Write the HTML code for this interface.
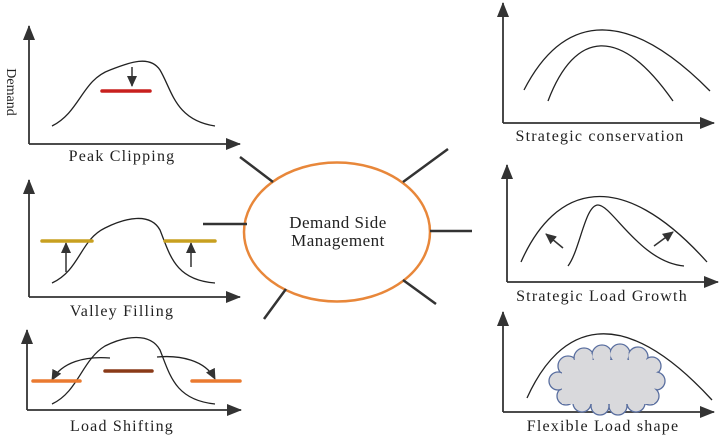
<!DOCTYPE html>
<html><head><style>body{margin:0;background:#fff}svg{display:block}text{font-family:"Liberation Serif",serif;fill:#222}</style></head><body>
<svg width="720" height="436" viewBox="0 0 720 436" xmlns="http://www.w3.org/2000/svg">
<defs><marker id="a" markerWidth="11" markerHeight="10" refX="10" refY="5" orient="auto" markerUnits="userSpaceOnUse"><path d="M0,0L11,5L0,10z" fill="#333"/></marker>
<marker id="b" markerWidth="15" markerHeight="12" refX="14" refY="6" orient="auto" markerUnits="userSpaceOnUse"><path d="M0,0L15,6L0,12z" fill="#333"/></marker></defs>
<g stroke="#333" stroke-width="1.8" fill="none">
<path d="M29,144V26" marker-end="url(#b)"/><path d="M29,144H240" marker-end="url(#b)"/>
<path d="M29,297V180" marker-end="url(#b)"/><path d="M29,297H240" marker-end="url(#b)"/>
<path d="M27,410V330" marker-end="url(#b)"/><path d="M27,410H241" marker-end="url(#b)"/>
<path d="M503,123V3" marker-end="url(#b)"/><path d="M503,123H714" marker-end="url(#b)"/>
<path d="M507,282V165" marker-end="url(#b)"/><path d="M507,282H718" marker-end="url(#b)"/>
<path d="M503,412V312" marker-end="url(#b)"/><path d="M503,412H714" marker-end="url(#b)"/>
</g>
<g stroke="#222" stroke-width="1.3" fill="none">
<path d="M52,126C80,112 82,80 110,70C130,62 150,55 160,70C172,90 175,120 215,126"/>
<path d="M52,283C80,270 80,240 105,228C125,218 150,212 160,230C170,255 175,280 215,283"/>
<path d="M52,404C78,392 82,360 105,346C125,336 150,332 160,350C170,375 175,400 215,404"/>
<path d="M524,90C560,20 620,0 710,91"/>
<path d="M548,101C575,30 620,25 673,101"/>
<path d="M521,262C555,185 620,165 707,262"/>
<path d="M568,266C580,250 585,205 598,205C612,205 640,262 684,266"/>
<path d="M527,398C560,325 620,300 712,400"/>
<path d="M110,358C85,356 62,362 52,380" marker-end="url(#a)"/>
<path d="M157,357C180,355 205,360 215,379" marker-end="url(#a)"/>
</g>
<g stroke="#333" stroke-width="1.5" fill="none">
<path d="M132,67V86" marker-end="url(#a)"/>
<path d="M66,272V243" marker-end="url(#a)"/><path d="M191,267V243" marker-end="url(#a)"/>
<path d="M563,248L546,234" marker-end="url(#a)"/><path d="M654,246L673,232" marker-end="url(#a)"/>
</g>
<g stroke-width="3.5" stroke-linecap="round">
<path d="M102,91H150" stroke="#c8201e"/>
<path d="M42,241H92M165,241H215" stroke="#c8a020"/>
<path d="M33,381H80M192,381H240" stroke="#ea7a30"/>
<path d="M105,371H152" stroke="#8a3a18"/>
</g>
<g fill="#d9d9dc" stroke="#5a6fa0" stroke-width="1.3">
<circle cx="568" cy="366" r="10"/><circle cx="584" cy="358" r="10"/><circle cx="602" cy="355" r="10"/><circle cx="620" cy="354" r="10"/><circle cx="638" cy="357" r="10"/><circle cx="652" cy="366" r="9"/><circle cx="656" cy="381" r="9"/><circle cx="650" cy="396" r="9"/><circle cx="636" cy="403" r="9"/><circle cx="618" cy="406" r="9"/><circle cx="600" cy="406" r="9"/><circle cx="582" cy="403" r="9"/><circle cx="566" cy="396" r="9"/><circle cx="558" cy="381" r="9"/>
</g>
<g fill="#d9d9dc"><circle cx="568" cy="366" r="8.7"/><circle cx="584" cy="358" r="8.7"/><circle cx="602" cy="355" r="8.7"/><circle cx="620" cy="354" r="8.7"/><circle cx="638" cy="357" r="8.7"/><circle cx="652" cy="366" r="7.7"/><circle cx="656" cy="381" r="7.7"/><circle cx="650" cy="396" r="7.7"/><circle cx="636" cy="403" r="7.7"/><circle cx="618" cy="406" r="7.7"/><circle cx="600" cy="406" r="7.7"/><circle cx="582" cy="403" r="7.7"/><circle cx="566" cy="396" r="7.7"/><circle cx="558" cy="381" r="7.7"/><rect x="562" y="360" width="92" height="44"/></g>
<ellipse cx="337" cy="232" rx="93" ry="69.5" fill="#fff" stroke="#e8873a" stroke-width="2.5"/>
<g stroke="#333" stroke-width="2.5"><path d="M240,157L273,182M448,149L403,182M430,231H472M203,224H247M403,280L436,304M286,289L264,319"/></g>
<g font-size="17" text-anchor="middle" letter-spacing="0.5">
<text x="338" y="228">Demand Side</text>
<text x="338" y="246">Management</text>
</g>
<g font-size="16" text-anchor="middle" letter-spacing="1.2">
<text x="122" y="161">Peak Clipping</text>
<text x="122" y="316">Valley Filling</text>
<text x="122" y="431">Load Shifting</text>
<text x="600" y="141">Strategic conservation</text>
<text x="602" y="301">Strategic Load Growth</text>
<text x="603" y="431">Flexible Load shape</text>
</g>
<text transform="translate(7,92) rotate(90)" font-size="14" text-anchor="middle">Demand</text>
</svg></body></html>
